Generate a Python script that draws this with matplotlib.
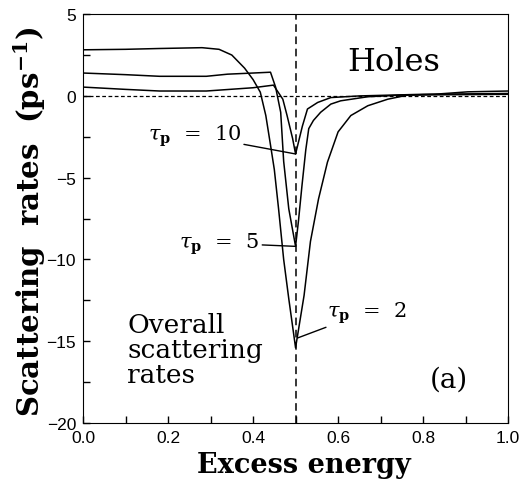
import numpy as np
import matplotlib
matplotlib.use("Agg")
import matplotlib.pyplot as plt
from matplotlib.ticker import MultipleLocator

# curves (excess energy, scattering rate in ps^-1)
x_tp2 = [0.0, 0.1, 0.18, 0.28, 0.32, 0.35, 0.38, 0.40, 0.417, 0.43, 0.441, 0.45,
         0.46, 0.472, 0.484, 0.5, 0.52, 0.535, 0.554, 0.575, 0.6, 0.63, 0.67,
         0.717, 0.764, 0.826, 0.905, 1.0]
y_tp2 = [2.82, 2.85, 2.9, 2.95, 2.85, 2.5, 1.7, 1.0, 0.23, -1.2, -3.0, -4.5,
         -6.9, -10.0, -12.4, -15.4, -12.2, -8.9, -6.3, -4.05, -2.2, -1.2, -0.6,
         -0.2, 0.05, 0.1, 0.25, 0.3]

x_tp5 = [0.0, 0.1, 0.18, 0.29, 0.34, 0.4, 0.441, 0.453, 0.465, 0.472, 0.484,
         0.5, 0.507, 0.515, 0.524, 0.531, 0.542, 0.559, 0.583, 0.606, 0.67,
         0.75, 1.0]
y_tp5 = [1.4, 1.3, 1.2, 1.2, 1.33, 1.4, 1.45, 0.54, -1.0, -4.0, -6.9,
         -9.2, -7.6, -5.5, -3.3, -2.0, -1.5, -1.0, -0.5, -0.3, -0.05,
         0.05, 0.1]

x_tp10 = [0.0, 0.1, 0.18, 0.29, 0.4, 0.448, 0.47, 0.48, 0.493, 0.5, 0.516,
          0.528, 0.552, 0.583, 0.65, 0.8, 1.0]
y_tp10 = [0.54, 0.4, 0.3, 0.3, 0.5, 0.66, -0.2, -1.2, -2.6, -3.55, -1.85,
          -0.8, -0.4, -0.1, 0.0, 0.1, 0.15]

serif = "DejaVu Serif"
plt.rcParams["mathtext.fontset"] = "dejavuserif"

fig = plt.figure(figsize=(5.19, 4.89), dpi=100)
ax = fig.add_axes([0.16, 0.133, 0.819, 0.836])

for xs, ys in [(x_tp2, y_tp2), (x_tp5, y_tp5), (x_tp10, y_tp10)]:
    ax.plot(xs, ys, color="black", lw=1.1)

ax.axhline(0, color="black", lw=0.9, ls=(0, (3, 2)))
ax.axvline(0.5, color="black", lw=1.1, ls=(0, (5, 3)))

ax.set_xlim(0, 1)
ax.set_ylim(-20, 5)
ax.xaxis.set_major_locator(MultipleLocator(0.2))
ax.xaxis.set_minor_locator(MultipleLocator(0.1))
ax.yaxis.set_major_locator(MultipleLocator(5))
ax.yaxis.set_minor_locator(MultipleLocator(2.5))
ax.tick_params(which="both", direction="in", length=5, width=1,
               top=False, right=False, labelsize=12.5, pad=5)
for lab in ax.get_xticklabels() + ax.get_yticklabels():
    lab.set_family("Liberation Sans")
ax.xaxis.set_major_formatter(plt.FormatStrFormatter("%.1f"))
ax.yaxis.set_major_formatter(plt.FuncFormatter(lambda v, p: f"{v:.0f}".replace("-", "\u2212")))

ax.set_xlabel("Excess energy", family=serif, fontsize=19.5, fontweight="bold")
ax.xaxis.set_label_coords(0.52, -0.068)
ax.set_ylabel(r"Scattering  rates  (ps$^{\mathbf{-1}}$)", family=serif, fontsize=21,
              fontweight="bold")
ax.yaxis.set_label_coords(-0.082, 0.495)

ax.text(0.73, 2.1, "Holes", family=serif, fontsize=23, ha="center", va="center")
ax.text(0.86, -17.3, "(a)", family=serif, fontsize=20, ha="center", va="center")
ax.text(0.104, -15.5, "Overall\nscattering\nrates", family=serif, fontsize=19,
        ha="left", va="center", linespacing=1.0)

ann = dict(arrowstyle="-", color="black", lw=1.0, shrinkA=0, shrinkB=0)
ax.annotate(r"$\tau_\mathbf{p}$  =  10", xy=(0.5, -3.55), xytext=(0.372, -2.4),
            family=serif, fontsize=15, ha="right", va="center", arrowprops=ann)
ax.annotate(r"$\tau_\mathbf{p}$  =  5", xy=(0.5, -9.2), xytext=(0.415, -9.0),
            family=serif, fontsize=15, ha="right", va="center", arrowprops=ann)
ax.annotate(r"$\tau_\mathbf{p}$  =  2", xy=(0.505, -14.8), xytext=(0.575, -13.2),
            family=serif, fontsize=15, ha="left", va="center", arrowprops=ann)

fig.savefig("out.png", dpi=100)
